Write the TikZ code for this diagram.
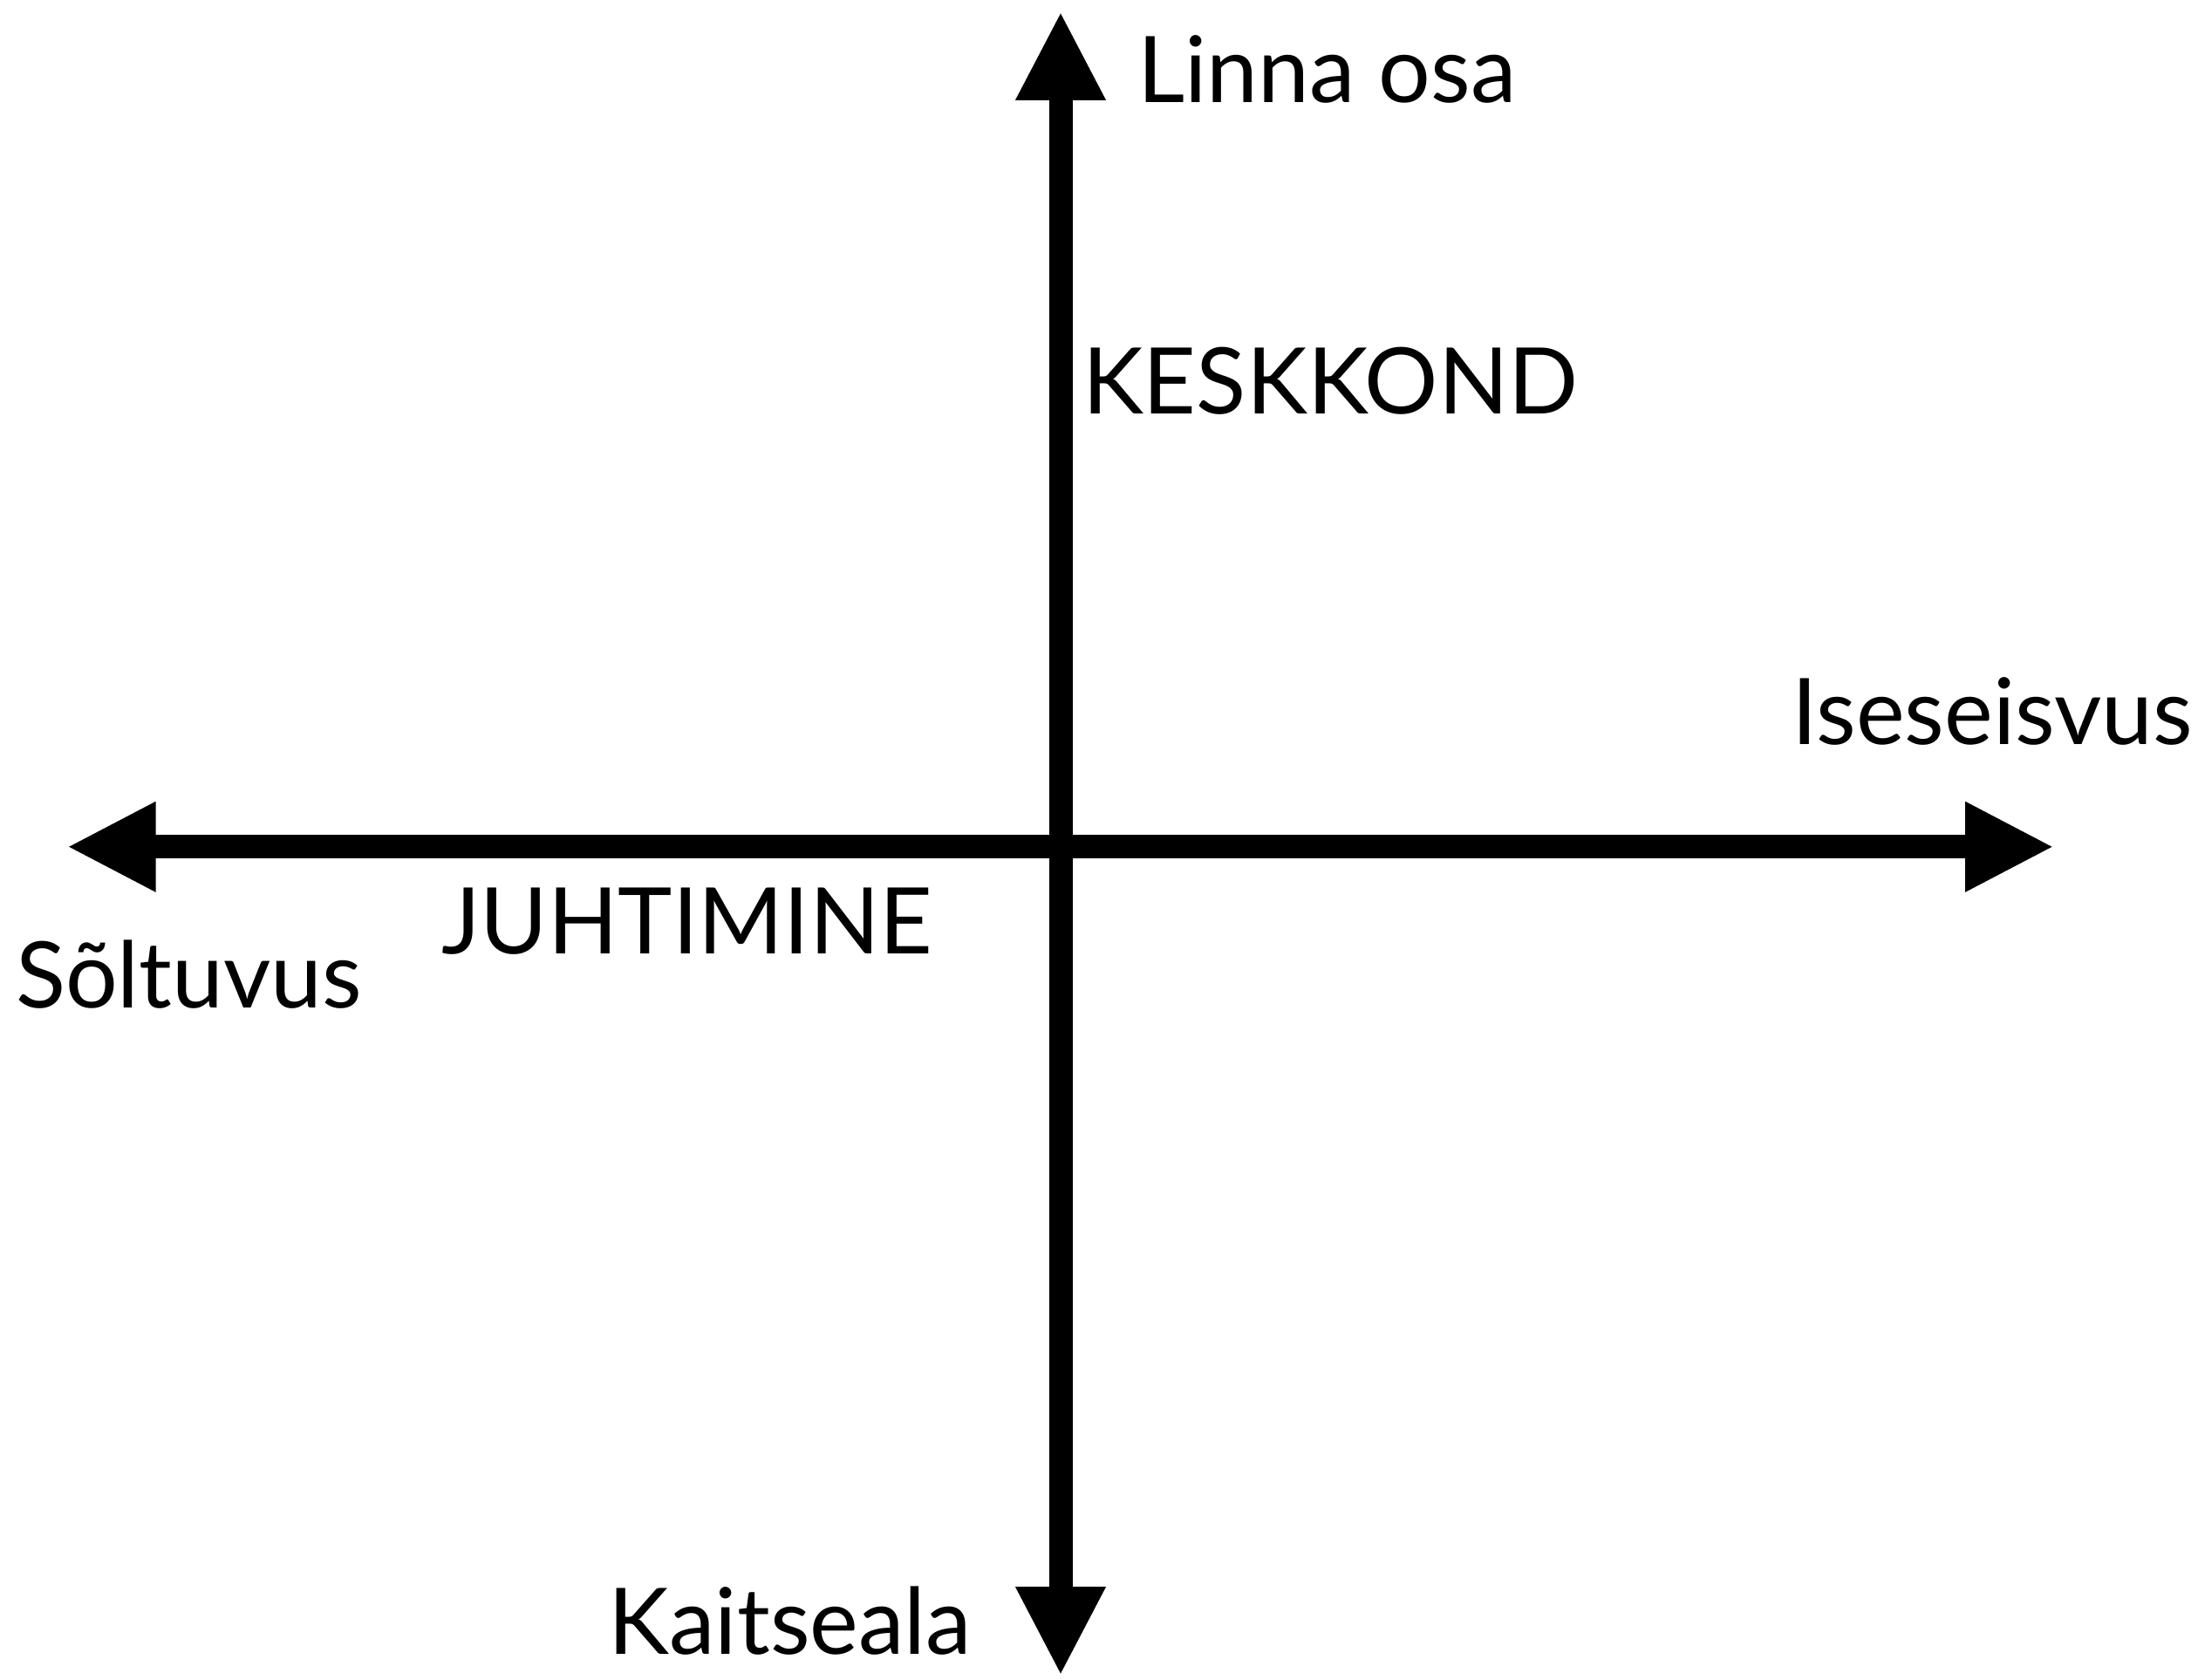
\documentclass[tikz,border=0pt]{standalone}
\usepackage{fontspec}
\setmainfont{Lato}
\usetikzlibrary{arrows.meta}

\begin{document}
\begin{tikzpicture}[<->, >={Triangle[length=1.02cm,width=0.96cm]}, semithick]
    \tikzstyle{axis}=[line width=0.27cm,black]
    \tikzstyle{lbl}=[inner sep=0pt,font=\fontsize{30}{36}\selectfont]
    \useasboundingbox (0,0) rectangle (25.2,19.25);
    \coordinate (left)   at (0.767,9.542);
    \coordinate (right)  at (23.55,9.542);
    \coordinate (bottom) at (12.16,0.04);
    \coordinate (top)    at (12.16,19.12);
    \node[lbl,anchor=base west] (linna)  at (13.03,18.077) {Linna osa};
    \node[lbl,anchor=base west] (kesk)   at (12.40,14.50)  {KESKKOND};
    \node[lbl,anchor=base east] (ise)    at (25.15,10.71)  {Iseseisvus};
    \node[lbl,anchor=base west] (juht)   at (5.05,8.317)   {JUHTIMINE};
    \node[lbl,anchor=base west] (solt)   at (0.17,7.69)    {Sõltuvus};
    \node[lbl,anchor=base east] (kaits)  at (11.15,0.283)  {Kaitseala};
    \draw[axis] (left) -- (right);
    \draw[axis] (bottom) -- (top);
\end{tikzpicture}
\end{document}
